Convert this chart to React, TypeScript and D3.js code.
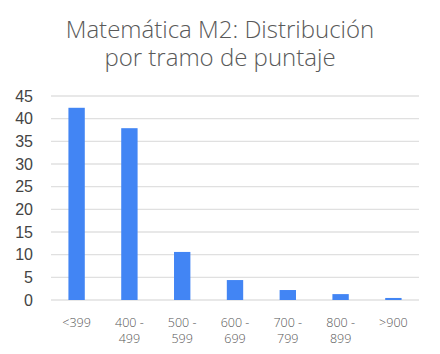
import React from "react";
import * as d3 from "d3";

const categories = ["<399", "400 - 499", "500 - 599", "600 - 699", "700 - 799", "800 - 899", ">900"];
const categoryLines = [["<399"], ["400 -", "499"], ["500 -", "599"], ["600 -", "699"], ["700 -", "799"], ["800 -", "899"], [">900"]];
const values = [42.4, 37.9, 10.6, 4.4, 2.2, 1.3, 0.45];
const yTicks = [0, 5, 10, 15, 20, 25, 30, 35, 40, 45];
const titleLines = ["Matemática M2: Distribución", "por tramo de puntaje"];

const W = 440;
const H = 354;
const margin = { left: 51, right: 21, top: 96, bottom: 54 };

export default function App() {
  const x = d3
    .scaleBand<string>()
    .domain(categories)
    .range([margin.left, W - margin.right])
    .paddingInner(0.69)
    .paddingOuter(0.33);
  const y = d3.scaleLinear().domain([0, 45]).range([H - margin.bottom, margin.top]);

  return (
    <svg width={W} height={H} style={{ position: "absolute", left: 0, top: 0, background: "#fff" }}>
      <rect width={W} height={H} fill="#fff" />
      <text textAnchor="middle" fontFamily="'Open Sans', sans-serif" fontWeight={300} fontSize={24} fill="#595959">
        {titleLines.map((t, i) => (
          <tspan key={i} x={220} y={38 + i * 28}>
            {t}
          </tspan>
        ))}
      </text>
      {yTicks.map((t) => (
        <g key={t}>
          <line x1={margin.left} x2={W - margin.right} y1={y(t)} y2={y(t)} stroke="#e0e0e0" strokeWidth={1.3} />
          <text x={33} y={y(t)} dy="0.36em" textAnchor="end" fontFamily="'Liberation Sans', Arial, sans-serif" fontSize={16} fill="#444">
            {t}
          </text>
        </g>
      ))}
      {values.map((v, i) => (
        <rect key={i} x={x(categories[i])} y={y(v)} width={x.bandwidth()} height={y(0) - y(v)} fill="#4285f4" />
      ))}
      {categoryLines.map((lines, i) => (
        <text key={i} x={(x(categories[i]) as number) + x.bandwidth() / 2} textAnchor="middle" fontFamily="'Open Sans', sans-serif" fontWeight={300} fontSize={12.5} fill="#555">
          {lines.map((l, j) => (
            <tspan key={j} x={(x(categories[i]) as number) + x.bandwidth() / 2} y={327 + j * 16}>
              {l}
            </tspan>
          ))}
        </text>
      ))}
    </svg>
  );
}
